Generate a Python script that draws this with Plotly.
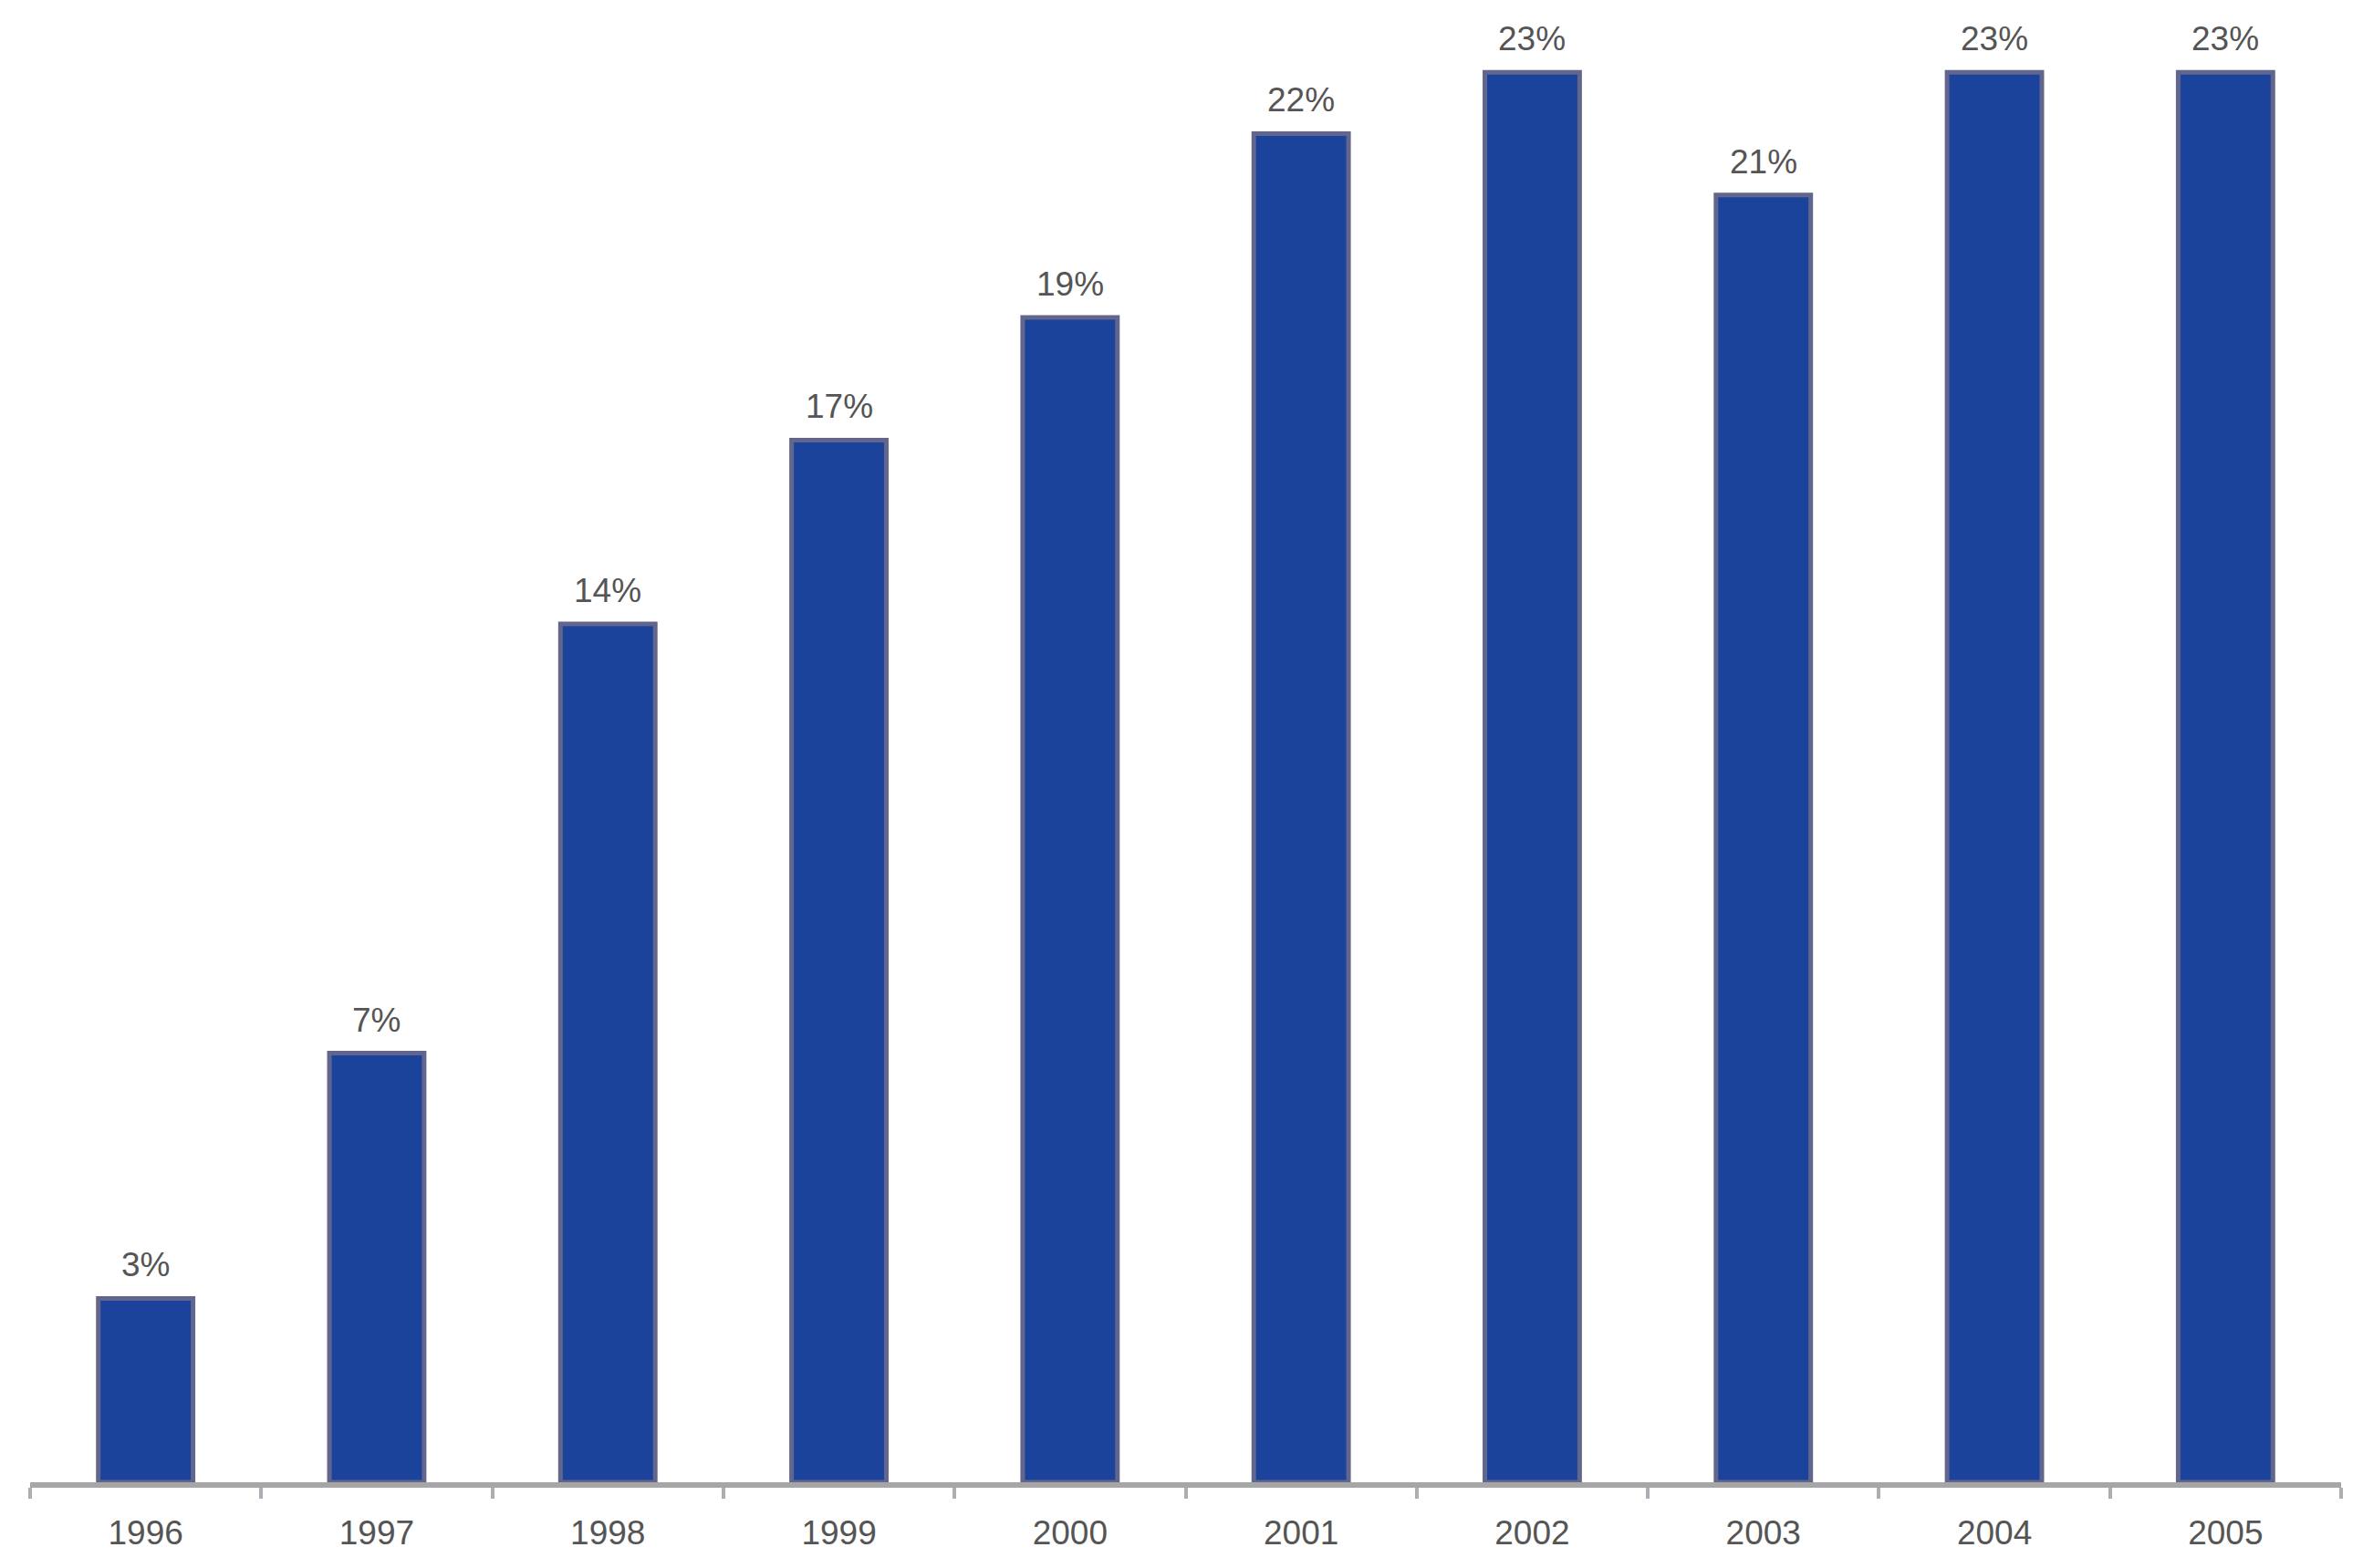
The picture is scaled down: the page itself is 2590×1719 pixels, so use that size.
import plotly.graph_objects as go

years = ["1996", "1997", "1998", "1999", "2000", "2001", "2002", "2003", "2004", "2005"]
shares = [3, 7, 14, 17, 19, 22, 23, 21, 23, 23]
labels = [f"{v}%" for v in shares]

FONT = "Liberation Sans, Arial, sans-serif"
TXT = "#555555"

fig = go.Figure(
    go.Bar(
        x=years,
        y=shares,
        marker=dict(color="#1c439c", line=dict(color="#62668c", width=5)),
        width=0.41,
    )
)

# value labels above bars (category index positions on the category axis)
for i, (v, lab) in enumerate(zip(shares, labels)):
    fig.add_annotation(
        x=i, y=v, xref="x", yref="y", text=lab, showarrow=False,
        yanchor="bottom", yshift=14,
        font=dict(family=FONT, size=37, color=TXT),
    )

fig.update_layout(
    width=2590,
    height=1719,
    margin=dict(l=25, r=32, t=0, b=102),
    paper_bgcolor="white",
    plot_bgcolor="white",
    showlegend=False,
    font=dict(family=FONT, size=37, color=TXT),
)
fig.update_xaxes(
    type="category",
    categoryorder="array",
    categoryarray=years,
    range=[-0.5, len(years) - 0.5],
    showline=True,
    linecolor="#a6a6a6",
    linewidth=6,
    ticks="outside",
    tickson="boundaries",
    ticklen=12,
    tickwidth=4,
    tickcolor="#b0acb4",
    showgrid=False,
    ticklabelstandoff=18,
    tickangle=0,
    tickfont=dict(size=37, color=TXT),
)
fig.update_yaxes(
    range=[0, 24.06],
    visible=False,
    showgrid=False,
    zeroline=False,
)

fig.write_html("out.html")
